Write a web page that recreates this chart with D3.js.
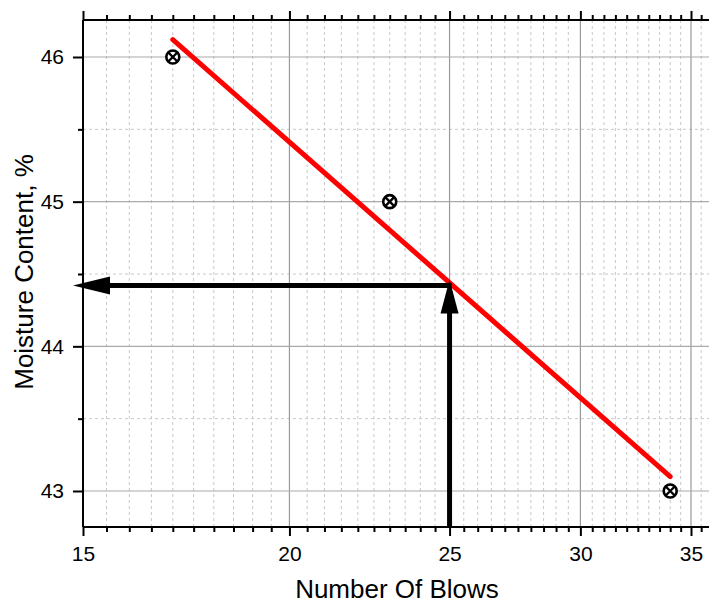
<!DOCTYPE html>
<html>
<head>
<meta charset="utf-8">
<script src="https://cdn.jsdelivr.net/npm/d3@7"></script>
<style>
  body { margin: 0; background: #fff; }
  text { font-family: "Liberation Sans", Arial, sans-serif; fill: #000; }
</style>
</head>
<body>
<div id="chart"></div>
<script>
// measured points (liquid limit test)
const blows = [17, 23, 34];
const moisture = [46, 45, 43];

// fitted flow line end points
const fitBlows = [17, 34];
const fitMoisture = [46.12, 43.1];

// liquid limit read at 25 blows
const llBlows = 25;
const llMoisture = 44.42;

const xTicks = [15, 20, 25, 30, 35];
const yTicks = [43, 44, 45, 46];

const W = 709, H = 603;
const pLeft = 83, pTop = 20, pRight = 709, pBottom = 527;

const svg = d3.select("#chart").append("svg")
  .attr("width", W)
  .attr("height", H);

const x = d3.scaleLog().domain([15, 35]).range([pLeft, 691]);
const y = d3.scaleLinear().domain([43, 46]).range([491, 57]);

const xMinor = d3.range(15, 36.01, 0.5).filter(d => d % 5 !== 0 && x(d) <= pRight);
const yMinor = d3.range(42.5, 46.51, 0.5).filter(d => d % 1 !== 0 && y(d) >= pTop && y(d) <= pBottom);

// grid
const grid = svg.append("g");
grid.selectAll(".vminor").data(xMinor).enter().append("line")
  .attr("x1", d => x(d)).attr("x2", d => x(d))
  .attr("y1", pTop).attr("y2", pBottom)
  .attr("stroke", "#c8c8c8").attr("stroke-dasharray", "3,3").attr("stroke-width", 1);
grid.selectAll(".hminor").data(yMinor).enter().append("line")
  .attr("x1", pLeft).attr("x2", pRight)
  .attr("y1", d => y(d)).attr("y2", d => y(d))
  .attr("stroke", "#c8c8c8").attr("stroke-dasharray", "3,3").attr("stroke-width", 1);
grid.selectAll(".vmajor").data(xTicks.slice(1)).enter().append("line")
  .attr("x1", d => x(d)).attr("x2", d => x(d))
  .attr("y1", pTop).attr("y2", pBottom)
  .attr("stroke", "#999").attr("stroke-width", 1.2);
grid.selectAll(".hmajor").data(yTicks).enter().append("line")
  .attr("x1", pLeft).attr("x2", pRight)
  .attr("y1", d => y(d)).attr("y2", d => y(d))
  .attr("stroke", "#aaa").attr("stroke-width", 1.2);

// flow line
const line = d3.line().x(d => x(d[0])).y(d => y(d[1]));
svg.append("path")
  .datum(fitBlows.map((b, i) => [b, fitMoisture[i]]))
  .attr("d", line)
  .attr("fill", "none")
  .attr("stroke", "#ff0000")
  .attr("stroke-width", 5)
  .attr("stroke-linecap", "round");

// markers: circle with cross
const pts = svg.selectAll(".pt").data(blows.map((b, i) => [b, moisture[i]]))
  .enter().append("g")
  .attr("transform", d => `translate(${x(d[0])},${y(d[1])})`);
pts.append("circle").attr("r", 6.5).attr("fill", "#fff").attr("stroke", "#000").attr("stroke-width", 2.6);
pts.append("path").attr("d", "M-5,-5L5,5M-5,5L5,-5")
  .attr("stroke", "#000").attr("stroke-width", 2.4);

// arrows to the liquid limit
const ax = x(llBlows), ay = y(llMoisture);
const arrows = svg.append("g");
arrows.append("line")
  .attr("x1", ax).attr("x2", ax).attr("y1", pBottom).attr("y2", ay + 20)
  .attr("stroke", "#000").attr("stroke-width", 5);
arrows.append("path")
  .attr("d", `M${ax},${ay - 6}L${ax - 9},${ay + 28}L${ax + 9},${ay + 28}Z`)
  .attr("fill", "#000");
arrows.append("line")
  .attr("x1", ax + 2).attr("x2", pLeft + 20).attr("y1", ay).attr("y2", ay)
  .attr("stroke", "#000").attr("stroke-width", 5);
arrows.append("path")
  .attr("d", `M${pLeft - 10},${ay}L${pLeft + 27},${ay - 9}L${pLeft + 27},${ay + 9}Z`)
  .attr("fill", "#000");

// axes
function styleAxis(g) {
  g.select(".domain").remove();
  g.selectAll(".tick line").attr("stroke", "#000").attr("stroke-width", 2);
}

svg.append("g").attr("transform", `translate(0,${pBottom})`)
  .call(d3.axisBottom(x).tickValues(xMinor).tickSize(5).tickFormat(""))
  .call(styleAxis);
svg.append("g").attr("transform", `translate(0,${pBottom})`)
  .call(d3.axisBottom(x).tickValues(xTicks).tickSize(9).tickPadding(10).tickFormat(d3.format("d")))
  .call(styleAxis)
  .selectAll("text").attr("font-size", 21);

svg.append("g").attr("transform", `translate(0,${pTop})`)
  .call(d3.axisTop(x).tickValues(xMinor).tickSize(5).tickFormat(""))
  .call(styleAxis);
svg.append("g").attr("transform", `translate(0,${pTop})`)
  .call(d3.axisTop(x).tickValues(xTicks).tickSize(9).tickFormat(""))
  .call(styleAxis);

svg.append("g").attr("transform", `translate(${pLeft},0)`)
  .call(d3.axisLeft(y).tickValues(yMinor).tickSize(5).tickFormat(""))
  .call(styleAxis);
svg.append("g").attr("transform", `translate(${pLeft},0)`)
  .call(d3.axisLeft(y).tickValues(yTicks).tickSize(10).tickPadding(9).tickFormat(d3.format("d")))
  .call(styleAxis)
  .selectAll("text").attr("font-size", 21);

svg.append("line").attr("x1", pLeft).attr("x2", pRight).attr("y1", pBottom).attr("y2", pBottom)
  .attr("stroke", "#000").attr("stroke-width", 2);
svg.append("line").attr("x1", pLeft).attr("x2", pRight).attr("y1", pTop).attr("y2", pTop)
  .attr("stroke", "#000").attr("stroke-width", 2);
svg.append("line").attr("x1", pLeft).attr("x2", pLeft).attr("y1", pTop).attr("y2", pBottom)
  .attr("stroke", "#000").attr("stroke-width", 2);

// titles
svg.append("text")
  .attr("x", 397).attr("y", 598)
  .attr("text-anchor", "middle")
  .attr("font-size", 26)
  .text("Number Of Blows");
svg.append("text")
  .attr("transform", "translate(33,272) rotate(-90)")
  .attr("text-anchor", "middle")
  .attr("font-size", 26)
  .text("Moisture Content, %");
</script>
</body>
</html>
